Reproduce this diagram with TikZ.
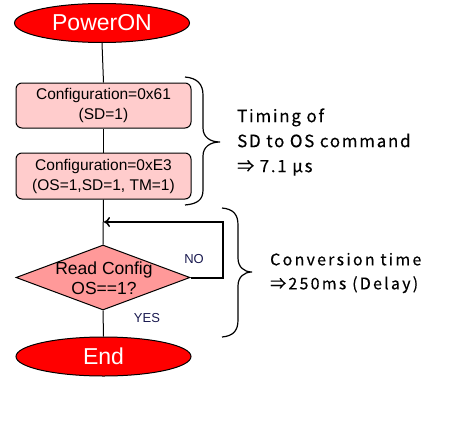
\documentclass[tikz,border=0pt]{standalone}
\usepackage{fontspec}
\setmainfont{Liberation Sans}
\newfontfamily\jpfont[LetterSpace=10,FakeBold=0.3]{Noto Sans CJK JP}
\newfontfamily\jpfontb[LetterSpace=14,FakeBold=0.3]{Noto Sans CJK JP}
\usetikzlibrary{shapes.geometric,arrows.meta}
\definecolor{boxpink}{HTML}{FFCCCC}
\definecolor{diapink}{HTML}{FF9999}
\definecolor{navy}{HTML}{1A1A50}
\begin{document}
\begin{tikzpicture}[x=1pt,y=-1pt,
  term/.style={ellipse,draw=black,line width=1pt,fill=red,text=white,inner sep=0pt,
    minimum width=175pt,minimum height=39pt,font=\fontsize{23}{23}\selectfont},
  cfgbox/.style={rectangle,rounded corners=6pt,draw=black,line width=1pt,fill=boxpink,
    minimum width=175pt,minimum height=45pt,inner sep=0pt,align=center,
    font=\fontsize{15.5}{20}\selectfont},
  decbox/.style={diamond,draw=black,line width=1pt,fill=diapink,inner sep=0pt,
    minimum width=174pt,minimum height=65pt},
  conn/.style={line width=1pt},
  brc/.style={line width=1.2pt},
  yn/.style={text=navy,font=\fontsize{13}{13}\selectfont,inner sep=0pt},
  note/.style={anchor=west,inner sep=0pt,font=\jpfont\fontsize{17}{25}\selectfont,align=left}
  ]
\useasboundingbox (0,0) rectangle (454,420);
\node[term] (pon) at (102,23) {PowerON};
\node[cfgbox] (c1) at (103.5,105.5) {Configuration=0x61\\(SD=1)};
\node[cfgbox,minimum height=46pt] (c2) at (103.5,176) {Configuration=0xE3\\(OS=1,SD=1, TM=1)};
\node[decbox] (dec) at (103,277.5) {};
\node[align=center,inner sep=0pt,font=\fontsize{17.5}{20}\selectfont] (decl) at (104,278) {Read Config\\OS==1?};
\node[term] (end) at (103.5,356.5) {End};
\coordinate (loopR) at (223,222);
\coordinate (mrg) at (104,222);
\draw[conn] (pon.south) -- (c1.north);
\draw[conn] (c1.south) -- (c2.north);
\draw[conn] (c2.south) -- (dec.north);
\draw[conn] (dec.south) -- (end.north);
\draw[line width=2pt,-{To[length=6pt,width=10pt,line width=1.5pt]}] (dec.east) -| (loopR) -- (mrg);
\node[yn] (no) at (194,259) {NO};
\node[yn] (yes) at (147,318) {YES};
\draw[brc] (185,77) .. controls (197,78) and (203,84) .. (203,95) -- (203,128)
  .. controls (203,137) and (210,142) .. (220,142)
  .. controls (210,142) and (203,147) .. (203,156) -- (203,190)
  .. controls (203,200) and (197,204) .. (185,205);
\draw[brc] (222,208) .. controls (233,209) and (238,214) .. (238,225) -- (238,258)
  .. controls (238,267) and (244,272) .. (252,272)
  .. controls (244,272) and (238,277) .. (238,286) -- (238,320)
  .. controls (238,331) and (233,336) .. (222,337);
\node[note] (t1) at (237,142) {Timing of\\SD to OS command\\⇒ 7.1 μs};
\node[note,font=\jpfontb\fontsize{16}{24}\selectfont] (t2) at (270,273) {Conversion time\\⇒250ms (Delay)};
\end{tikzpicture}
\end{document}
